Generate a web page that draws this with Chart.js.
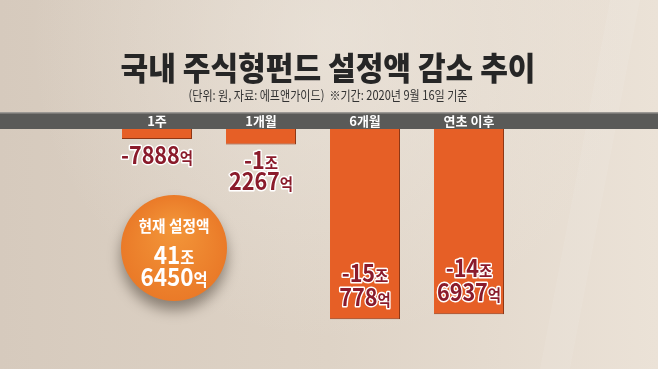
<!DOCTYPE html>
<html>
<head>
<meta charset="utf-8">
<script src="https://cdn.jsdelivr.net/npm/chart.js@4.4.0/dist/chart.umd.min.js"></script>
<style>
    html, body { margin: 0; padding: 0; overflow: hidden; background: #e0d6ca; }
</style>
</head>
<body>
<canvas id="myChart" width="658" height="369"></canvas>
<script>
// 단위: 억원
const periods = ["1주", "1개월", "6개월", "연초 이후"]
const decrease = [-7888, -12267, -150778, -146937]
const currentLabel = "현재 설정액"
const currentAmount = 416450
const titleText = "국내 주식형펀드 설정액 감소 추이"
const subText = "(단위: 원, 자료: 에프앤가이드)  ※기간: 2020년 9월 16일 기준"

const FONT = "'Noto Sans CJK KR', 'Noto Sans', sans-serif"

// 억 -> [["-1","조"],["2267","억"]]
const splitWon = (v) => {
    const a = Math.abs(v)
    const jo = Math.floor(a / 10000)
    const eok = a % 10000
    const sign = v < 0 ? "-" : ""
    if (jo === 0) return [[sign + eok, "억"]]
    return [[sign + jo, "조"], [String(eok), "억"]]
}

const drawPair = (ctx, x, y, num, unit, size, unitSize, fill, stroke) => {
    ctx.save()
    ctx.textBaseline = "alphabetic"
    ctx.font = `bold ${size}px ${FONT}`
    const w1 = ctx.measureText(num).width
    ctx.font = `bold ${unitSize}px ${FONT}`
    const w2 = ctx.measureText(unit).width
    const sx = 0.9
    ctx.translate(x, y)
    ctx.scale(sx, 1)
    const start = -(w1 + w2) / 2
    const base = size * 0.36
    ctx.lineJoin = "round"
    if (stroke) {
        ctx.strokeStyle = stroke
        ctx.lineWidth = 3
        ctx.font = `bold ${size}px ${FONT}`
        ctx.strokeText(num, start, base)
        ctx.font = `bold ${unitSize}px ${FONT}`
        ctx.strokeText(unit, start + w1, base)
    }
    ctx.fillStyle = fill
    ctx.font = `bold ${size}px ${FONT}`
    ctx.fillText(num, start, base)
    ctx.font = `bold ${unitSize}px ${FONT}`
    ctx.fillText(unit, start + w1, base)
    ctx.restore()
}

const bgPlugin = {
    id: "bg",
    beforeDraw(chart) {
        const ctx = chart.ctx
        const W = chart.width, H = chart.height
        ctx.save()
        const g = ctx.createLinearGradient(0, 0, W, 0)
        g.addColorStop(0, "#d6cabd")
        g.addColorStop(0.5, "#ded3c6")
        g.addColorStop(1, "#ebe2d7")
        ctx.fillStyle = g
        ctx.fillRect(0, 0, W, H)
        const r = ctx.createRadialGradient(330, 40, 10, 330, 40, 300)
        r.addColorStop(0, "rgba(240,234,226,0.55)")
        r.addColorStop(1, "rgba(240,234,226,0)")
        ctx.fillStyle = r
        ctx.fillRect(0, 0, W, H)
        // faint streak on the right
        ctx.fillStyle = "rgba(255,255,255,0.08)"
        ctx.beginPath()
        ctx.moveTo(610, 0); ctx.lineTo(640, 0); ctx.lineTo(570, H); ctx.lineTo(540, H)
        ctx.fill()

        // title
        ctx.fillStyle = "#262626"
        ctx.textAlign = "center"
        ctx.textBaseline = "middle"
        ctx.save()
        ctx.translate(328, 68)
        ctx.scale(0.94, 1)
        ctx.font = `900 32px ${FONT}`
        ctx.fillText(titleText, 0, 0)
        ctx.restore()
        ctx.save()
        ctx.translate(328, 95)
        ctx.scale(0.85, 1)
        ctx.fillStyle = "#333"
        ctx.font = `13px ${FONT}`
        ctx.fillText(subText, 0, 0)
        ctx.restore()

        // dark band behind the period labels
        const top = chart.scales.x.top
        const bottom = chart.chartArea.top
        ctx.fillStyle = "#5a5a58"
        ctx.fillRect(0, top, W, bottom - top)
        ctx.fillStyle = "#9b9894"
        ctx.fillRect(0, top, W, 1.5)
        ctx.restore()
    }
}

const labelPlugin = {
    id: "labels",
    afterDatasetsDraw(chart) {
        const ctx = chart.ctx
        const meta = chart.getDatasetMeta(0)
        meta.data.forEach((bar, i) => {
            const lines = splitWon(decrease[i])
            const h = Math.abs(bar.y - bar.base)
            lines.forEach((ln, j) => {
                let y
                if (h < 40) y = bar.y + 16 + j * 21
                else y = bar.y - 22 - (lines.length - 1 - j) * 24
                drawPair(ctx, bar.x, y, ln[0], ln[1], 24, 16, "#8a1b2b", "#ffffff")
            })
        })

        // current amount circle
        const cx = 174, cy = 248, rad = 53
        ctx.save()
        ctx.shadowColor = "rgba(40,30,20,0.45)"
        ctx.shadowBlur = 14
        ctx.shadowOffsetY = 9
        const g = ctx.createRadialGradient(cx, cy - 20, 5, cx, cy, rad)
        g.addColorStop(0, "#f29438")
        g.addColorStop(1, "#ea7a28")
        ctx.fillStyle = g
        ctx.beginPath()
        ctx.arc(cx, cy, rad, 0, Math.PI * 2)
        ctx.fill()
        ctx.restore()

        ctx.save()
        ctx.fillStyle = "#ffffff"
        ctx.textAlign = "center"
        ctx.textBaseline = "middle"
        ctx.translate(cx, 226)
        ctx.scale(0.92, 1)
        ctx.font = `bold 16px ${FONT}`
        ctx.fillText(currentLabel, 0, 0)
        ctx.restore()
        const parts = splitWon(currentAmount)
        drawPair(ctx, cx, 255, parts[0][0], parts[0][1], 25, 17, "#ffffff", null)
        drawPair(ctx, cx, 277, parts[1][0], parts[1][1], 25, 17, "#ffffff", null)
    }
}

const ctx = document.getElementById("myChart").getContext("2d")
const myChart = new Chart(ctx, {
    type: "bar",
    data: {
        labels: periods,
        datasets: [{
            data: decrease,
            backgroundColor: "#e65f26",
            borderColor: "#8e3614",
            borderWidth: { top: 0, left: 0, right: 1, bottom: 1 },
            borderSkipped: false,
            barPercentage: 0.673,
            categoryPercentage: 1
        }]
    },
    options: {
        responsive: false,
        animation: false,
        layout: { padding: { top: 112, left: 105, right: 137, bottom: 13 } },
        scales: {
            x: {
                position: "top",
                grid: { display: false, drawTicks: false },
                border: { display: false },
                ticks: { color: "#ffffff", padding: 0, font: { size: 13, weight: "bold", family: FONT } },
                afterFit: (s) => { s.height = 17 }
            },
            y: { display: false, min: -180000, max: 0 }
        },
        plugins: {
            legend: { display: false },
            tooltip: { enabled: false }
        }
    },
    plugins: [bgPlugin, labelPlugin]
})
</script>
</body>
</html>
